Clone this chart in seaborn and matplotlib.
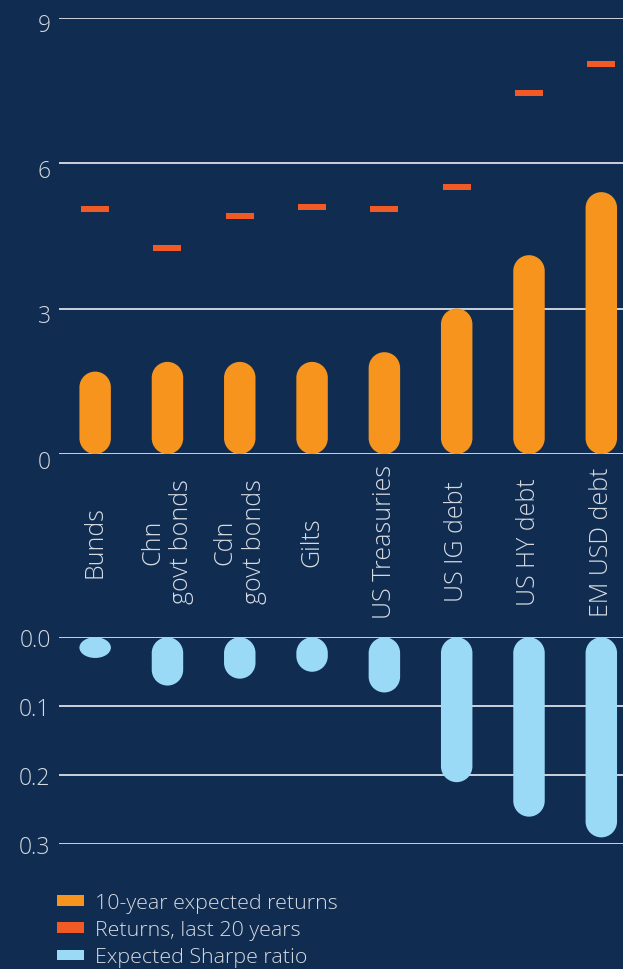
import numpy as np
import pandas as pd
import matplotlib
matplotlib.use("Agg")
import matplotlib.pyplot as plt
import seaborn as sns
from matplotlib.patches import PathPatch, Patch
from matplotlib.path import Path
from matplotlib.transforms import ScaledTranslation

# data
categories = ["Bunds", "Chn\ngovt bonds", "Cdn\ngovt bonds", "Gilts",
              "US Treasuries", "US IG debt", "US HY debt", "EM USD debt"]
expected_10y = [1.7, 1.9, 1.9, 1.9, 2.1, 3.0, 4.1, 5.4]
returns_20y = [5.05, 4.25, 4.9, 5.1, 5.05, 5.5, 7.45, 8.05]
sharpe = [0.03, 0.07, 0.06, 0.05, 0.08, 0.21, 0.26, 0.29]

top_ticks = [0, 3, 6, 9]
bottom_ticks = [0.0, 0.1, 0.2, 0.3]
legend_labels = ["10-year expected returns", "Returns, last 20 years", "Expected Sharpe ratio"]

BG = "#102d51"
ORANGE = "#f7941d"
RED = "#f15a24"
BLUE = "#9bdaf6"
TXT = "#d6dae1"

sns.set_theme(style="white", rc={"axes.facecolor": BG, "figure.facecolor": BG})
plt.rcParams["font.family"] = ["Open Sans", "DejaVu Sans"]
plt.rcParams["font.weight"] = "light"

df = pd.DataFrame({"cat": categories, "exp": expected_10y, "ret": returns_20y, "sharpe": sharpe})

fig = plt.figure(figsize=(6.23, 9.70), dpi=100)
ax1 = fig.add_axes([0.0947, 0.5309, 0.9053, 0.4500])
ax2 = fig.add_axes([0.0947, 0.1286, 0.9053, 0.2134])


def round_bars(ax):
    # replace seaborn's rectangles by capsules (true circular ends in pixel space)
    t = ax.transData
    sx = abs(t.transform((1, 0))[0] - t.transform((0, 0))[0])
    sy = abs(t.transform((0, 1))[1] - t.transform((0, 0))[1])
    top_arc = Path.arc(0, 180)
    bot_arc = Path.arc(180, 360)
    for p in list(ax.patches):
        x, y, w, h = p.get_x(), p.get_y(), p.get_width(), p.get_height()
        y0, y1 = min(y, y + h), max(y, y + h)
        rpx = w * sx / 2
        rx = w / 2
        ry = min(rpx, (y1 - y0) * sy / 2) / sy
        xc = x + w / 2
        vt = top_arc.vertices * [rx, ry] + [xc, y1 - ry]
        vb = bot_arc.vertices * [rx, ry] + [xc, y0 + ry]
        verts = np.vstack([vt, vb, vt[:1]])
        codes = list(top_arc.codes) + [Path.LINETO] + list(bot_arc.codes[1:]) + [Path.CLOSEPOLY]
        pp = PathPatch(Path(verts, codes), fc=p.get_facecolor(), ec="none", zorder=3)
        p.remove()
        ax.add_patch(pp)


dash = Path([(-0.5, -0.105), (0.5, -0.105), (0.5, 0.105), (-0.5, 0.105), (-0.5, -0.105)],
            [Path.MOVETO, Path.LINETO, Path.LINETO, Path.LINETO, Path.CLOSEPOLY])

# top panel
sns.barplot(data=df, x="cat", y="exp", color=ORANGE, width=0.435, saturation=1, ax=ax1)
sns.scatterplot(data=df, x="cat", y="ret", marker=dash, s=378, color=RED,
                linewidth=0, zorder=4, ax=ax1)
ax1.set_xlim(-0.5, 7.3)
ax1.set_ylim(0, 9)
ax1.set_yticks(top_ticks)
ax1.set_yticklabels([str(v) for v in top_ticks])
round_bars(ax1)

# bottom panel
sns.barplot(data=df, x="cat", y="sharpe", color=BLUE, width=0.435, saturation=1, ax=ax2)
ax2.set_xlim(-0.5, 7.3)
ax2.set_ylim(0.3, 0)
ax2.set_yticks(bottom_ticks)
ax2.set_yticklabels([f"{v:.1f}" for v in bottom_ticks])
round_bars(ax2)

for ax in (ax1, ax2):
    ax.set_xlabel("")
    ax.set_ylabel("")
    sns.despine(ax=ax, left=True, bottom=True)
    ax.yaxis.grid(True, color="white", lw=1.1)
    ax.xaxis.grid(False)
    ax.set_axisbelow(True)
    ax.tick_params(axis="y", length=0, pad=6, labelsize=16.5, labelcolor=TXT)

ax1.tick_params(axis="x", length=0, pad=62.6, labelsize=18, labelcolor=TXT)
for lab in ax1.get_xticklabels():
    lab.set_rotation(90)
    lab.set_va("center")
    lab.set_ha("center")
    lab.set_multialignment("center")
for lab in ax1.get_yticklabels():
    lab.set_transform(lab.get_transform() + ScaledTranslation(0, -4.5 / 100, fig.dpi_scale_trans))
ax2.set_xticklabels([])
ax2.tick_params(axis="x", length=0)

handles = [Patch(fc=ORANGE, ec="none"), Patch(fc=RED, ec="none"), Patch(fc=BLUE, ec="none")]
leg = fig.legend(handles, legend_labels, loc="upper left", bbox_to_anchor=(0.091, 0.078),
                 frameon=False, fontsize=15.4, handlelength=1.27, handleheight=0.38,
                 handletextpad=0.5, labelspacing=0.33, borderpad=0, borderaxespad=0)
for t in leg.get_texts():
    t.set_color(TXT)

fig.savefig("out.png", dpi=100, facecolor=BG)
